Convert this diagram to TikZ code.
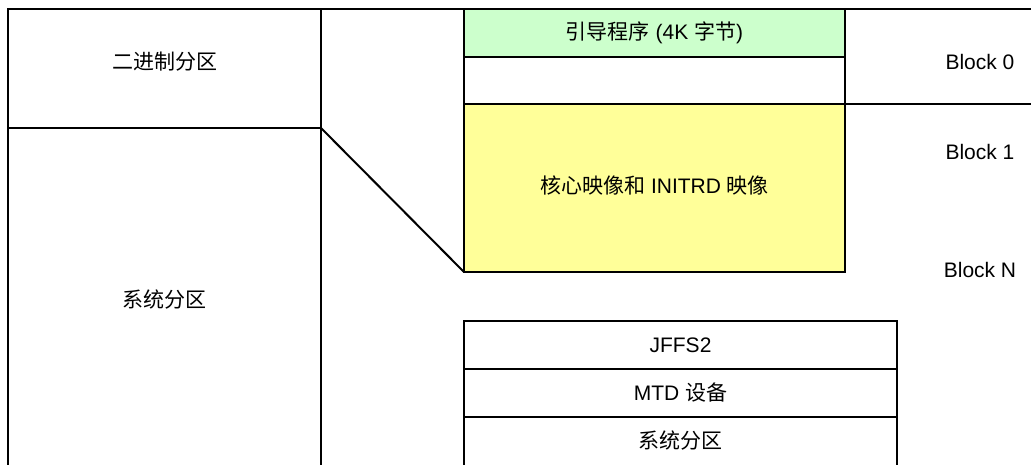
\documentclass[tikz,border=0pt]{standalone}
\usepackage{fontspec}
\setmainfont{Liberation Sans}
\newfontfamily\cjk{Noto Sans CJK SC}
\definecolor{bootgreen}{HTML}{CCFFCC}
\definecolor{kernyellow}{HTML}{FFFF99}
\begin{document}
\begin{tikzpicture}[x=1pt,y=-1pt,
  box/.style={draw=black,line width=2pt,rectangle,inner sep=0pt,outer sep=0pt,anchor=north west,
    font=\fontsize{21}{25}\selectfont},
  lbl/.style={inner sep=0pt,font=\fontsize{21}{25}\selectfont},
  edge/.style={draw=black,line width=2pt}]
\useasboundingbox (0,0) rectangle (1031,464);
\begin{scope}
\clip (0,0) rectangle (1031,464);
% left column
\node[box,minimum width=313pt,minimum height=119pt] (bin) at (8,9) {};
\node[lbl] at ([yshift=-53pt]bin.north) {\cjk 二进制分区};
\node[box,minimum width=313pt,minimum height=346pt] (sys) at (8,128) {};
\node[lbl] at ([yshift=-172pt]sys.north) {\cjk 系统分区};
% right column
\node[box,fill=bootgreen,minimum width=381pt,minimum height=48pt] (boot) at (464,9) {};
\node[lbl] at (boot.center) {{\cjk 引导程序} (4K {\cjk 字节})};
\node[box,minimum width=381pt,minimum height=47pt] (blank) at (464,57) {};
\node[box,fill=kernyellow,minimum width=381pt,minimum height=168pt] (kern) at (464,104) {};
\node[lbl] at ([yshift=2pt]kern.center) {{\cjk 核心映像和} INITRD {\cjk 映像}};
% bottom stack
\node[box,minimum width=433pt,minimum height=48pt] (jffs) at (464,321) {JFFS2};
\node[box,minimum width=433pt,minimum height=48pt] (mtd) at (464,369) {MTD {\cjk 设备}};
\node[box,minimum width=433pt,minimum height=55pt] (sys2) at (464,417) {};
\node[lbl] at ([yshift=-24pt]sys2.north) {\cjk 系统分区};
% frame lines
\coordinate (tr) at (1031,9);
\coordinate (r1) at (1031,104);
\draw[edge] (bin.north east) -- (tr);
\draw[edge] (blank.south east) -- (r1);
\draw[edge] (bin.south east) -- (kern.south west);
\end{scope}
% block labels
\node[lbl] (b0) at (980,62) {Block 0};
\node[lbl] (b1) at (980,152) {Block 1};
\node[lbl] (bn) at (980,270) {Block N};
\end{tikzpicture}
\end{document}
